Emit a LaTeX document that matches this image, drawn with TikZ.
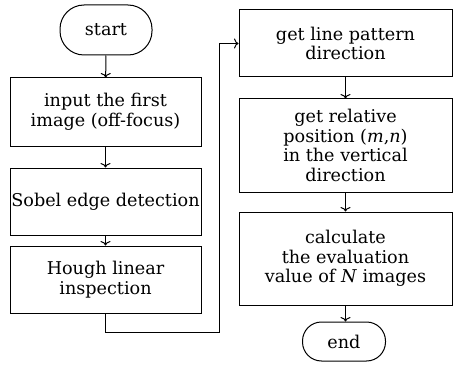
\documentclass[tikz,border=0pt]{standalone}
\usepackage{fontspec}
\setmainfont{DejaVu Serif}
\usetikzlibrary{arrows.meta}
\begin{document}
\begin{tikzpicture}[x=1pt,y=1pt,
  every node/.style={font=\fontsize{17.6}{19.5}\selectfont},
  box/.style={draw,line width=1pt,align=center,inner sep=0pt},
  term/.style={draw,line width=1pt,rounded corners=19pt,align=center,inner sep=0pt},
  flow/.style={line width=1pt,-{To[length=4.5pt,width=10pt]}}]
\useasboundingbox (0,0) rectangle (453,-369);
\node[term,minimum width=92pt,minimum height=50pt,rounded corners=24pt] (start) at (106,-30) {start};
\node[box,minimum width=191pt,minimum height=68pt] (b1) at (105.5,-112) {input the first\\image (off-focus)};
\node[box,minimum width=191pt,minimum height=67pt] (b2) at (105.5,-201.5) {Sobel edge detection};
\node[box,minimum width=191pt,minimum height=67pt] (b3) at (105.5,-279.5) {Hough linear\\inspection};
\node[box,minimum width=213pt,minimum height=67pt] (b4) at (345.5,-43.5) {get line pattern\\direction};
\node[box,minimum width=213pt,minimum height=93pt] (b5) at (345.5,-145.5) {get relative\\position (\textit{m},\textit{n})\\in the vertical\\direction};
\node[box,minimum width=213pt,minimum height=93pt] (b6) at (345.5,-258.5) {calculate\\the evaluation\\value of \textit{N} images};
\node[term,minimum width=83pt,minimum height=39pt] (end) at (344,-341.5) {end};
\coordinate (c1) at (105.5,-332);
\coordinate (c2) at (219,-332);
\coordinate (c3) at (219,-43.5);
\draw[flow] (start) -- (b1);
\draw[flow] (b1) -- (b2);
\draw[flow] (b2) -- (b3);
\draw[flow] (b3.south) -- (c1) -- (c2) -- (c3) -- (b4.west);
\draw[flow] (b4) -- (b5);
\draw[flow] (b5) -- (b6);
\draw[flow] (b6.south) -- (b6.south |- end.north);
\end{tikzpicture}
\end{document}
